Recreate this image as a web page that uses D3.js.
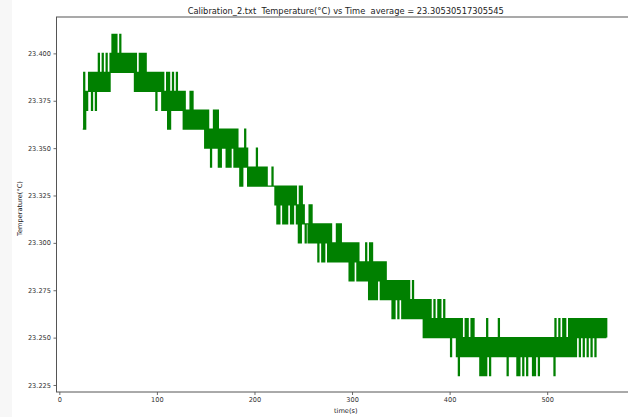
<!DOCTYPE html>
<html>
<head>
<meta charset="utf-8">
<script src="https://cdn.jsdelivr.net/npm/d3@7"></script>
<style>
  body { margin: 0; background: #fff; }
  svg { display: block; }
  text { font-family: "DejaVu Sans", sans-serif; }
</style>
</head>
<body>
<svg id="chart" width="628" height="417"></svg>
<script>
// Labels and ticks
const titleText = "Calibration_2.txt  Temperature(°C) vs Time  average = 23.30530517305545";
const xLabel = "time(s)";
const yLabel = "Temperature(°C)";
const xTicks = [0, 100, 200, 300, 400, 500];
const yTicks = [23.225, 23.250, 23.275, 23.300, 23.325, 23.350, 23.375, 23.400];

// The sensor reports in 0.01 °C steps; each reading is stored as one
// character that indexes into this list of levels.
const tempLevels = [23.23, 23.24, 23.25, 23.26, 23.27, 23.28, 23.29, 23.30, 23.31, 23.32,
                    23.33, 23.34, 23.35, 23.36, 23.37, 23.38, 23.39, 23.40, 23.41];
const levelKey = "0123456789abcdefghi";

// One reading per second starting at t = 24 s (groups of five seconds)
const startTime = 24;
const sampleStep = 1;
const readings = [
  "dgdfef",
  "gfgegfgegfhfgfhfgfhfgf",
  "hgigi", "gighg", "ighgh", "ghghg", "hghgh", "fh",
  "fgfhf", "hfhfh", "fgfgf", "gfgfg", "egfgf", "gege",
  "fegdg", "dfege", "fegef", "efefd", "fde",
  "dedfd", "fdede", "deded", "edece", "ce",
  "cdbdc", "ecece", "bdbdc", "dcdbd", "bdbdc", "dbdbd", "bc",
  "acacbdbc",
  "ababa", "babac", "ababa", "babab", "a",
  "aaaabaa",
  "9a8a8", "a9a8a", "8a8a9", "a8a8a", "9a897", "a7a89",
  "87887", "97978",
  "78786", "87868", "68786", "86867", "67686", "86867",
  "67676", "75757", "57675", "75656", "56575", "64747", "46464", "65646", "46",
  "46454", "54535", "35453", "54535", "3",
  "53535", "34353", "43434", "34342", "424",
  "24242", "32423", "24242", "32423", "23231", "32323", "1303",
  "13121", "31312", "13131", "21",
  "21202", "02020", "31202", "12121", "21312", "12121", "20212", "12121",
  "20202", "12021", "20212", "12020", "21202", "12121", "21212", "12120",
  "31213", "12131", "31213", "13131", "31323", "13231", "32313", "23132",
  "31323", "23232", "3232"
];

const series = readings.join("").split("").map((c, i) => ({
  t: startTime + i * sampleStep,
  v: tempLevels[levelKey.indexOf(c)]
}));

// Plot area
const W = 628, H = 417;
const plot = { left: 56.5, right: 635, top: 17, bottom: 392 };

const svg = d3.select("#chart");

// Light strip along the left edge of the output cell
svg.append("rect").attr("x", 0).attr("y", 0).attr("width", 12).attr("height", H).attr("fill", "#f7f7f7");

const x = d3.scaleLinear().domain([-2.9, 590]).range([plot.left, plot.right]);
const y = d3.scaleLinear().domain([23.2213, 23.4192]).range([plot.bottom, plot.top]);

// Data line, clipped to the axes box
svg.append("clipPath").attr("id", "plotClip")
  .append("rect")
  .attr("x", plot.left).attr("y", plot.top)
  .attr("width", plot.right - plot.left).attr("height", plot.bottom - plot.top);

// Readings hold their value until the next sample arrives
const line = d3.line().x(d => x(d.t)).y(d => y(d.v)).curve(d3.curveStepAfter);
svg.append("path")
  .datum(series)
  .attr("clip-path", "url(#plotClip)")
  .attr("fill", "none")
  .attr("stroke", "#008000")
  .attr("stroke-width", 1.3)
  .attr("d", line);

// Axes
const xAxis = d3.axisBottom(x).tickValues(xTicks).tickFormat(d3.format("d"))
  .tickSize(3).tickPadding(2).tickSizeOuter(0);
const yAxis = d3.axisLeft(y).tickValues(yTicks).tickFormat(d3.format(".3f"))
  .tickSize(3).tickPadding(2.5).tickSizeOuter(0);

const gx = svg.append("g").attr("transform", `translate(0,${plot.bottom})`).call(xAxis);
const gy = svg.append("g").attr("transform", `translate(${plot.left},0)`).call(yAxis);
[gx, gy].forEach(g => {
  g.select(".domain").remove();
  g.selectAll(".tick line").attr("stroke", "#444").attr("stroke-width", 0.8);
  g.selectAll(".tick text").attr("fill", "#333").attr("font-size", 6.6)
    .attr("font-family", '"DejaVu Sans", sans-serif');
});

// Frame (all four spines)
svg.append("rect")
  .attr("x", plot.left).attr("y", plot.top)
  .attr("width", plot.right - plot.left).attr("height", plot.bottom - plot.top)
  .attr("fill", "none").attr("stroke", "#555").attr("stroke-width", 1);

// Title and axis labels
svg.append("text")
  .attr("x", (plot.left + plot.right) / 2).attr("y", 13.5)
  .attr("text-anchor", "middle").attr("font-size", 8.3).attr("fill", "#222")
  .style("white-space", "pre")
  .text(titleText);

svg.append("text")
  .attr("x", (plot.left + plot.right) / 2).attr("y", 412.5)
  .attr("text-anchor", "middle").attr("font-size", 6.6).attr("fill", "#222")
  .text(xLabel);

svg.append("text")
  .attr("transform", `translate(21.5,${(plot.top + plot.bottom) / 2 + 4}) rotate(-90)`)
  .attr("text-anchor", "middle").attr("font-size", 6.6).attr("fill", "#222")
  .text(yLabel);
</script>
</body>
</html>
